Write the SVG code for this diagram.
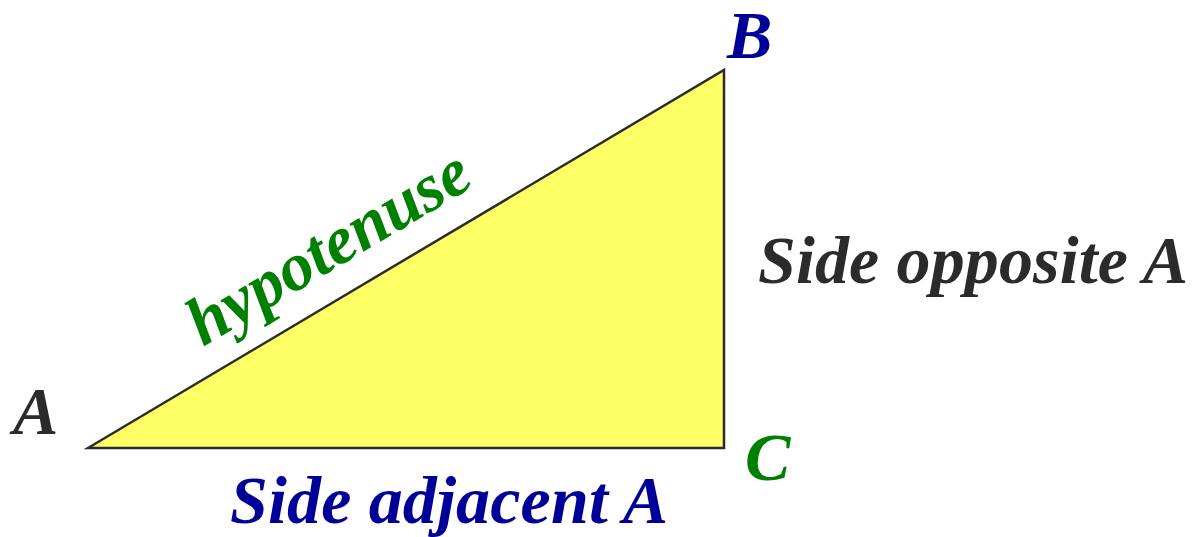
<svg xmlns="http://www.w3.org/2000/svg" width="1196" height="537" viewBox="0 0 1196 537">
<style>
.lbl{font-family:"Liberation Serif","Times New Roman",serif;font-weight:bold;font-style:italic;font-size:68px}
.blue{fill:#000099}
.green{fill:#008000}
.gray{fill:#2b2b2b}
</style>
<rect width="1196" height="537" fill="#ffffff"/>
<g id="triangle">
<polygon points="88,448 724,70 724,448" fill="#ffff66" stroke="#2b2b2b" stroke-width="2.5" stroke-linejoin="miter"/>
</g>
<g id="vertex-A"><text class="lbl gray" x="13" y="434">A</text></g>
<g id="vertex-B"><text class="lbl blue" x="727" y="58">B</text></g>
<g id="vertex-C"><text class="lbl green" x="745" y="480">C</text></g>
<g id="label-hypotenuse"><text class="lbl green" x="203" y="347" transform="rotate(-30.7 203 347)">hypotenuse</text></g>
<g id="label-opposite"><text class="lbl gray" x="758" y="283" textLength="430">Side opposite A</text></g>
<g id="label-adjacent"><text class="lbl blue" x="230" y="523" textLength="438">Side adjacent A</text></g>
</svg>
